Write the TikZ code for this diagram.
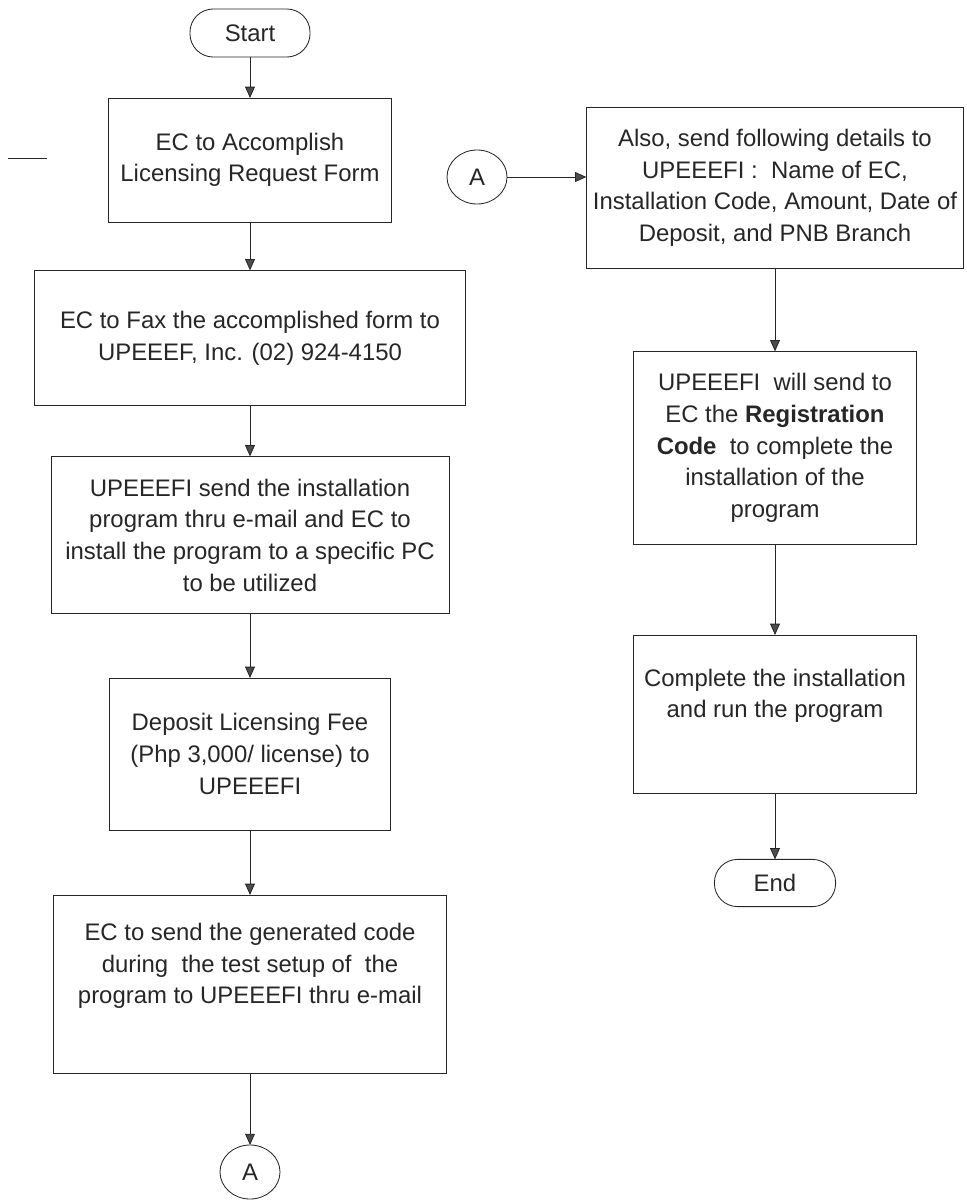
\documentclass[tikz,border=0pt]{standalone}
\usepackage{fontspec}
\setmainfont{Liberation Sans}
\usepackage{tikz}
\usetikzlibrary{arrows.meta}
\usetikzlibrary{shapes.geometric}
\usetikzlibrary{calc}

\tikzset{
  procbox/.style={draw, rectangle, align=center, inner sep=2pt, outer sep=0pt},
  termbox/.style={draw, rectangle, rounded corners=0.58cm, minimum width=3cm, minimum height=1.2cm, outer sep=0pt},
  connbox/.style={draw, ellipse, minimum width=1.5cm, minimum height=1.35cm, inner sep=0pt, outer sep=0pt},
  flowarrow/.style={-{Triangle[width=7pt,length=8pt,fill=black!70]}}
}

\begin{document}
\begin{tikzpicture}[x=0.025cm, y=-0.025cm, line width=0.6pt, black!85]

\fontsize{17}{22.5}\selectfont

\useasboundingbox (0,0) rectangle (966,1201);

% left column
\node[termbox] (start) at (250,33) {Start};
\node[procbox, minimum width=7.08cm, minimum height=3.1cm] (form) at (250,160)
  {EC to Accomplish\\Licensing Request Form};
\node[procbox, minimum width=10.78cm, minimum height=3.38cm] (fax) at (250,338)
  {EC to Fax the accomplished form to\\UPEEEF, Inc. (02) 924-4150};
\node[procbox, minimum width=9.95cm, minimum height=3.93cm] (install) at (250,535)
  {UPEEEFI send the installation\\program thru e-mail and EC to\\install the program to a specific PC\\to be utilized};
\node[procbox, minimum width=7.03cm, minimum height=3.8cm] (deposit) at (250,754)
  {Deposit Licensing Fee\\(Php 3,000/ license) to\\UPEEEFI};
\node[procbox, minimum width=9.83cm, minimum height=4.45cm] (gencode) at (250,984)
  {EC to send the generated code\\during\ \ the test setup of\ \ the\\program to UPEEEFI thru e-mail\\\strut};
\node[connbox] (conout) at (250,1172) {A};

\draw (8,158) -- (47,158);

% right column
\node[connbox] (conin) at (477,177) {A};
\node[procbox, minimum width=9.43cm, minimum height=4.03cm] (details) at (775,188)
  {Also, send following details to\\UPEEEFI :\ \ Name of EC,\\Installation Code, Amount, Date of\\Deposit, and PNB Branch};
\node[procbox, minimum width=7.08cm, minimum height=4.83cm] (regcode) at (775,448)
  {UPEEEFI\ \ will send to\\EC the \textbf{Registration}\\\textbf{Code}\ \ to complete the\\installation of the\\program};
\node[procbox, minimum width=7.08cm, minimum height=3.95cm] (run) at (775,714)
  {Complete the installation\\and run the program\\\strut};
\node[termbox, minimum width=3.03cm, minimum height=1.18cm] (end) at (775,883) {End};

% connectors
\draw[flowarrow] (start) -- (form);
\draw[flowarrow] (form) -- (fax);
\draw[flowarrow] (fax) -- (install);
\draw[flowarrow] (install) -- (deposit);
\draw[flowarrow] (deposit) -- (gencode);
\draw[flowarrow] (gencode) -- (conout);

\draw[flowarrow] (conin.east) -- (conin.east -| details.west);
\draw[flowarrow] (details) -- (regcode);
\draw[flowarrow] (regcode) -- (run);
\draw[flowarrow] (run) -- (end);

\end{tikzpicture}
\end{document}
